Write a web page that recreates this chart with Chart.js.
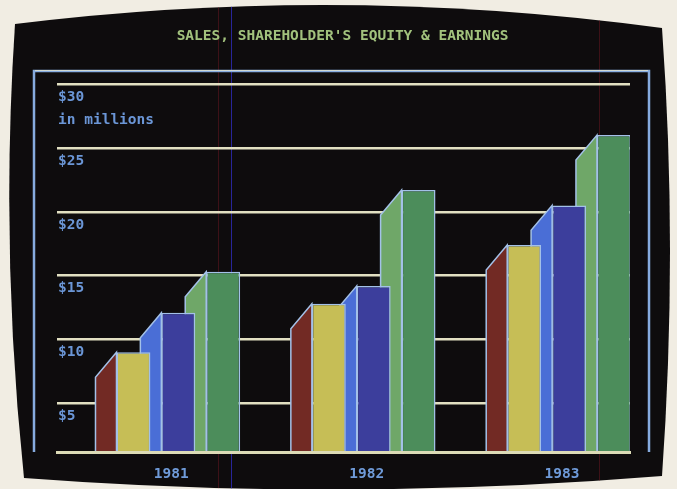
<!DOCTYPE html>
<html>
<head>
<meta charset="utf-8">
<script src="https://cdn.jsdelivr.net/npm/chart.js@4.4.1/dist/chart.umd.min.js"></script>
<style>
  html, body { margin: 0; padding: 0; background: #f1ede3; }
  canvas { display: block; }
</style>
</head>
<body>
<canvas id="chart" width="677" height="489"></canvas>
<script>
// Figures in $ millions
const years = ['1981', '1982', '1983'];
const earnings = [9.0, 12.8, 17.4];
const equity = [12.1, 14.2, 20.5];
const sales = [15.3, 21.7, 26.0];
const yTickStep = 5;
const yTop = 30;
const unitNote = 'in millions';
const titleText = "SALES, SHAREHOLDER'S EQUITY & EARNINGS";

const MONO = 'DejaVu Sans Mono';

// Front and side face colours per series
const frontColors = ['#c6be56', '#3c3e9c', '#4c8d5b'];
const sideColors = ['#722a24', '#4a6ed6', '#6fa768'];
const edgeColor = '#a3c1e8';

const toPoints = arr => arr.map((v, i) => ({ x: i, y: v }));

// Monitor screen behind the chart
const screenPlugin = {
  id: 'screen',
  beforeDraw(chart) {
    const { ctx, width, height } = chart;
    ctx.save();
    ctx.fillStyle = '#f1ede3';
    ctx.fillRect(0, 0, width, height);
    ctx.beginPath();
    ctx.moveTo(15, 24);
    ctx.quadraticCurveTo(338, -16, 662, 28);
    ctx.quadraticCurveTo(678, 250, 662, 476);
    ctx.quadraticCurveTo(340, 502, 24, 478);
    ctx.quadraticCurveTo(0, 250, 15, 24);
    ctx.closePath();
    ctx.fillStyle = '#0e0c0d';
    ctx.fill();
    ctx.clip();
    // faint scan artefacts
    ctx.lineWidth = 1;
    ctx.strokeStyle = 'rgba(50,45,200,0.75)';
    ctx.beginPath(); ctx.moveTo(231.5, 0); ctx.lineTo(231.5, height); ctx.stroke();
    ctx.strokeStyle = 'rgba(120,25,35,0.45)';
    ctx.beginPath(); ctx.moveTo(218.5, 0); ctx.lineTo(218.5, height); ctx.stroke();
    ctx.beginPath(); ctx.moveTo(599.5, 0); ctx.lineTo(599.5, height); ctx.stroke();
    ctx.restore();
  },
  afterDraw(chart) {
    // blue frame around the plot
    const { ctx, chartArea: a } = chart;
    ctx.save();
    ctx.strokeStyle = '#86abdf';
    ctx.lineWidth = 2.5;
    ctx.beginPath();
    ctx.moveTo(a.left - 23, a.bottom);
    ctx.lineTo(a.left - 23, a.top - 13);
    ctx.lineTo(a.right + 19, a.top - 13);
    ctx.lineTo(a.right + 19, a.bottom);
    ctx.stroke();
    ctx.strokeStyle = 'rgba(225,228,205,0.8)';
    ctx.lineWidth = 1.2;
    ctx.beginPath();
    ctx.moveTo(a.left - 22, a.top - 13.5);
    ctx.lineTo(a.right + 18, a.top - 13.5);
    ctx.stroke();
    ctx.restore();
  }
};

// Slanted side face drawn just before each series' front faces
const sideFacePlugin = {
  id: 'sideFace',
  beforeDatasetDraw(chart, args, opts) {
    const { ctx, chartArea: a } = chart;
    const fill = sideColors[args.index];
    ctx.save();
    ctx.beginPath();
    ctx.rect(a.left, a.top, a.right - a.left, a.bottom - a.top);
    ctx.clip();
    args.meta.data.forEach(bar => {
      const p = bar.getProps(['x', 'y', 'width'], true);
      const fl = p.x - p.width / 2;
      ctx.beginPath();
      ctx.moveTo(fl, p.y);
      ctx.lineTo(fl - opts.depthX, p.y + opts.depthY);
      ctx.lineTo(fl - opts.depthX, a.bottom + 2);
      ctx.lineTo(fl, a.bottom + 2);
      ctx.closePath();
      ctx.fillStyle = fill;
      ctx.fill();
      ctx.lineWidth = 1.5;
      ctx.strokeStyle = edgeColor;
      ctx.stroke();
    });
    ctx.restore();
  }
};

const series = [
  { label: 'Earnings', data: toPoints(earnings) },
  { label: "Shareholder's Equity", data: toPoints(equity) },
  { label: 'Sales', data: toPoints(sales) }
];

new Chart(document.getElementById('chart'), {
  type: 'bar',
  data: {
    datasets: series.map((s, i) => ({
      label: s.label,
      data: s.data,
      backgroundColor: frontColors[i],
      borderColor: edgeColor,
      borderWidth: 1.5,
      borderSkipped: 'start',
      barPercentage: 0.756,
      categoryPercentage: 0.689,
      clip: 0
    }))
  },
  plugins: [screenPlugin, sideFacePlugin],
  options: {
    responsive: false,
    animation: false,
    devicePixelRatio: 1,
    layout: { padding: { left: 55, right: 47, top: 0, bottom: 5 } },
    plugins: {
      legend: { display: false },
      tooltip: { enabled: false },
      sideFace: { depthX: 21, depthY: 25 },
      title: {
        display: true,
        text: titleText,
        color: '#a2c27d',
        font: { family: MONO, size: 14.5, weight: 'bold', lineHeight: 1.2 },
        padding: { top: 28, bottom: 38.6 }
      }
    },
    scales: {
      x: {
        type: 'linear',
        min: -0.621,
        max: 2.312,
        bounds: 'data',
        offset: false,
        grace: 0,
        grid: { display: false, drawTicks: false, offset: false },
        border: { display: true, color: '#dcdbb6', width: 3, z: 1 },
        // one tick per year
        afterBuildTicks: scale => { scale.ticks = years.map((_, i) => ({ value: i })); },
        afterFit: scale => { scale.height = 32; },
        ticks: {
          autoSkip: false,
          maxRotation: 0,
          padding: 14,
          labelOffset: -7,
          color: '#6f9bd9',
          font: { family: MONO, size: 14.5, weight: 'bold', lineHeight: 1.2 },
          callback: v => years[v] ?? ''
        }
      },
      y: {
        min: 1.2,
        max: yTop,
        grid: { color: '#e2e0c2', lineWidth: 2.5, drawTicks: false },
        border: { display: false },
        ticks: {
          stepSize: yTickStep,
          includeBounds: false,
          mirror: true,
          padding: 1,
          labelOffset: 24.5,
          color: '#6b96d6',
          font: { family: MONO, size: 14.5, weight: 'bold', lineHeight: 1.586 },
          callback: v => v === yTop ? ['$' + v, unitNote] : ['$' + v, '']
        }
      }
    }
  }
});
</script>
</body>
</html>
